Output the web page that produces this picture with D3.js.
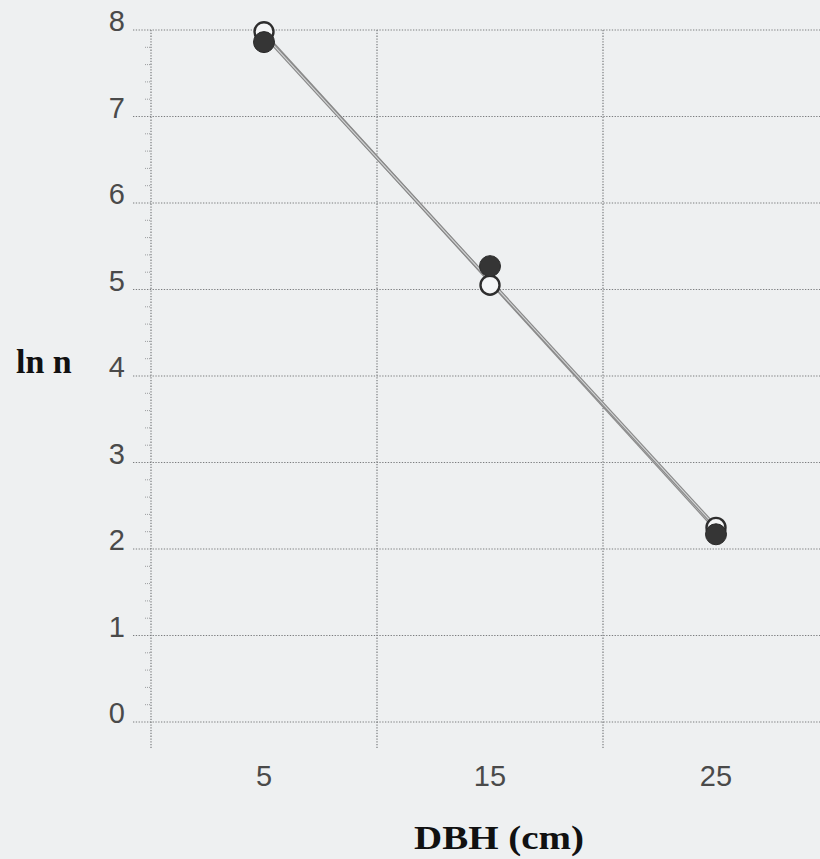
<!DOCTYPE html>
<html>
<head>
<meta charset="utf-8">
<script src="https://cdn.jsdelivr.net/npm/d3@7"></script>
<style>
  html, body { margin: 0; padding: 0; background: #eef0f1; }
  svg { display: block; }
</style>
</head>
<body>
<svg id="chart" width="820" height="859"></svg>
<script>
// DBH size classes (cm) and ln of stem counts for the two samples
const dbhClasses = [5, 15, 25];
const lnOpen = [7.98, 5.05, 2.25];
const lnFilled = [7.86, 5.27, 2.17];
const yTicks = [0, 1, 2, 3, 4, 5, 6, 7, 8];
const xTickLabels = [5, 15, 25];
const xGrid = [0, 10, 20, 30];

const svg = d3.select("#chart");
const W = 820, H = 859;

const x = d3.scaleLinear().domain([0, 30]).range([151, 829]);
const y = d3.scaleLinear().domain([0, 8]).range([722, 30]);

const gridColor = "#7a7c7e";

// horizontal grid lines
svg.append("g").selectAll("line").data(yTicks).join("line")
  .attr("x1", 133).attr("x2", W)
  .attr("y1", d => y(d)).attr("y2", d => y(d))
  .attr("stroke", gridColor).attr("stroke-width", 1.2)
  .attr("stroke-dasharray", "1.3,1.5");

// vertical grid lines (x = 0 doubles as the y axis)
svg.append("g").selectAll("line").data(xGrid).join("line")
  .attr("x1", d => x(d)).attr("x2", d => x(d))
  .attr("y1", y(8)).attr("y2", 748)
  .attr("stroke", gridColor).attr("stroke-width", 1.2)
  .attr("stroke-dasharray", "1.3,1.5");

// minor ticks on the y axis every 0.2
const minor = d3.range(0, 40).map(i => i * 0.2).filter(v => Math.abs(v - Math.round(v)) > 1e-6);
svg.append("g").selectAll("line").data(minor).join("line")
  .attr("x1", x(0) - 6).attr("x2", x(0))
  .attr("y1", d => y(d)).attr("y2", d => y(d))
  .attr("stroke", "#9a9c9e").attr("stroke-width", 1)
  .attr("stroke-dasharray", "1,1");

// y tick labels
svg.append("g").selectAll("text").data(yTicks).join("text")
  .attr("x", 125).attr("y", d => y(d) + 1)
  .attr("text-anchor", "end")
  .attr("font-family", "Liberation Sans, Arial, sans-serif")
  .attr("font-size", 29)
  .attr("fill", "#4a4a4a")
  .text(d => d);

// x tick labels
svg.append("g").selectAll("text").data(xTickLabels).join("text")
  .attr("x", d => x(d)).attr("y", 786)
  .attr("text-anchor", "middle")
  .attr("font-family", "Liberation Sans, Arial, sans-serif")
  .attr("font-size", 29)
  .attr("fill", "#4a4a4a")
  .text(d => d);

// axis titles
svg.append("text")
  .attr("x", 499).attr("y", 849)
  .attr("text-anchor", "middle")
  .attr("font-family", "Liberation Serif, Times New Roman, serif")
  .attr("font-weight", "bold")
  .attr("font-size", 33)
  .attr("textLength", 170)
  .attr("lengthAdjust", "spacingAndGlyphs")
  .attr("fill", "#111")
  .text("DBH (cm)");

svg.append("text")
  .attr("x", 16).attr("y", 373)
  .attr("font-family", "Liberation Serif, Times New Roman, serif")
  .attr("font-weight", "bold")
  .attr("font-size", 34)
  .attr("fill", "#111")
  .text("ln n");

// least-squares fit for each sample
function fit(xs, ys) {
  const mx = d3.mean(xs), my = d3.mean(ys);
  const b = d3.sum(xs, (v, i) => (v - mx) * (ys[i] - my)) / d3.sum(xs, v => (v - mx) ** 2);
  return v => my + b * (v - mx);
}
const fits = [fit(dbhClasses, lnOpen), fit(dbhClasses, lnFilled)];
const x0 = d3.min(dbhClasses), x1 = d3.max(dbhClasses);

const lineG = svg.append("g");
fits.forEach(f => {
  lineG.append("line")
    .attr("x1", x(x0)).attr("y1", y(f(x0)))
    .attr("x2", x(x1)).attr("y2", y(f(x1)))
    .attr("stroke", "#8a8a8a").attr("stroke-width", 3.4);
  lineG.append("line")
    .attr("x1", x(x0)).attr("y1", y(f(x0)))
    .attr("x2", x(x1)).attr("y2", y(f(x1)))
    .attr("stroke", "#d4d6d7").attr("stroke-width", 1.1);
});

// open circles
svg.append("g").selectAll("circle").data(dbhClasses).join("circle")
  .attr("cx", d => x(d)).attr("cy", (d, i) => y(lnOpen[i]))
  .attr("r", 9.5)
  .attr("fill", "#f4f5f6")
  .attr("stroke", "#2e2e2e").attr("stroke-width", 2.4);

// filled circles
svg.append("g").selectAll("circle").data(dbhClasses).join("circle")
  .attr("cx", d => x(d)).attr("cy", (d, i) => y(lnFilled[i]))
  .attr("r", 10.5)
  .attr("fill", "#353535")
  .attr("stroke", "#2a2a2a").attr("stroke-width", 1);
</script>
</body>
</html>
